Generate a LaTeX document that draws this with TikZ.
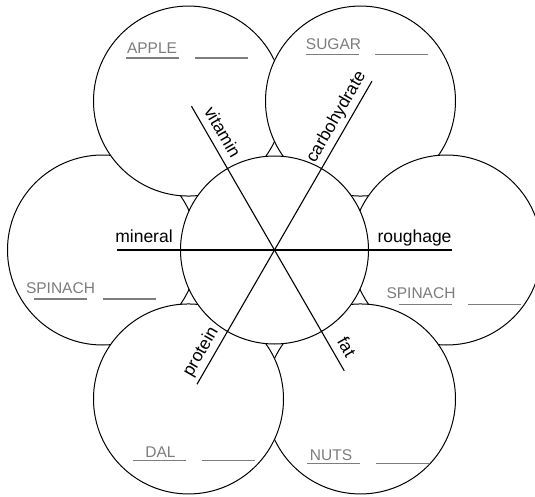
\documentclass[tikz,border=0pt]{standalone}
\usepackage{fontspec}
\setmainfont{Liberation Sans}
\usetikzlibrary{calc}
\definecolor{foodgray}{RGB}{125,125,125}
\tikzset{
  petal/.style={draw, circle, fill=white, minimum size=190pt, inner sep=0pt, line width=1pt},
  hub/.style={draw, circle, fill=white, minimum size=188pt, inner sep=0pt, line width=1pt},
  spoke/.style={line width=1.1pt},
  nut/.style={font=\fontsize{17.5}{20}\selectfont, anchor=base, inner sep=0pt},
  food/.style={font=\fontsize{15.5}{18}\selectfont, text=foodgray, anchor=base, inner sep=0pt},
  blank/.style={draw=foodgray, line width=1.6pt},
}
\begin{document}
\begin{tikzpicture}[x=1pt,y=1pt]
\clip (-274.5,-246) rectangle (260.5,250);
% petals, back to front
\foreach \a in {180,120,60,0,300,240} {
  \node[petal] (c\a) at (\a:172) {};
}
\node[hub] (hub) at (0,0) {};
% spokes
\foreach \a/\l in {120/166, 60/195, 180/157, 0/177.5, 240/155, 300/139.5} {
  \coordinate (e\a) at (\a:\l);
  \draw[spoke] (hub.center) -- (e\a);
}
\node[nut, rotate=-60] (vitamin) at ($(120:128)+(30:8)$) {vitamin};
\node[nut, rotate=60] (carbo) at ($(60:146)+(150:8)$) {carbohydrate};
\node[nut] (mineral) at ($(180:130.5)+(90:8)$) {mineral};
\node[nut] (rough) at ($(0:140)+(90:8)$) {roughage};
\node[nut, rotate=60] (protein) at ($(240:125)+(150:8)$) {protein};
\node[nut, rotate=-60] (fat) at ($(300:120)+(30:8)$) {fat};
% foods and blanks
\foreach \n/\t/\x/\y/\l/\u in {apple/APPLE/-122.5/196.7/-148.5/192.3, sugar/SUGAR/59/200.7/31.5/195.7,
    spinl/SPINACH/-214/-43.3/-240.5/-49, spinr/SPINACH/146.5/-48.3/124.5/-54.3,
    dal/DAL/-114/-207/-141.5/-210.3, nuts/NUTS/56.5/-210/32.5/-213.3} {
  \node[food] (f\n) at (\x,\y) {\t};
  \draw[blank] (\l,\u) -- ++(53,0);
  \draw[blank] (\l+69,\u) -- ++(53,0);
}
\end{tikzpicture}
\end{document}
